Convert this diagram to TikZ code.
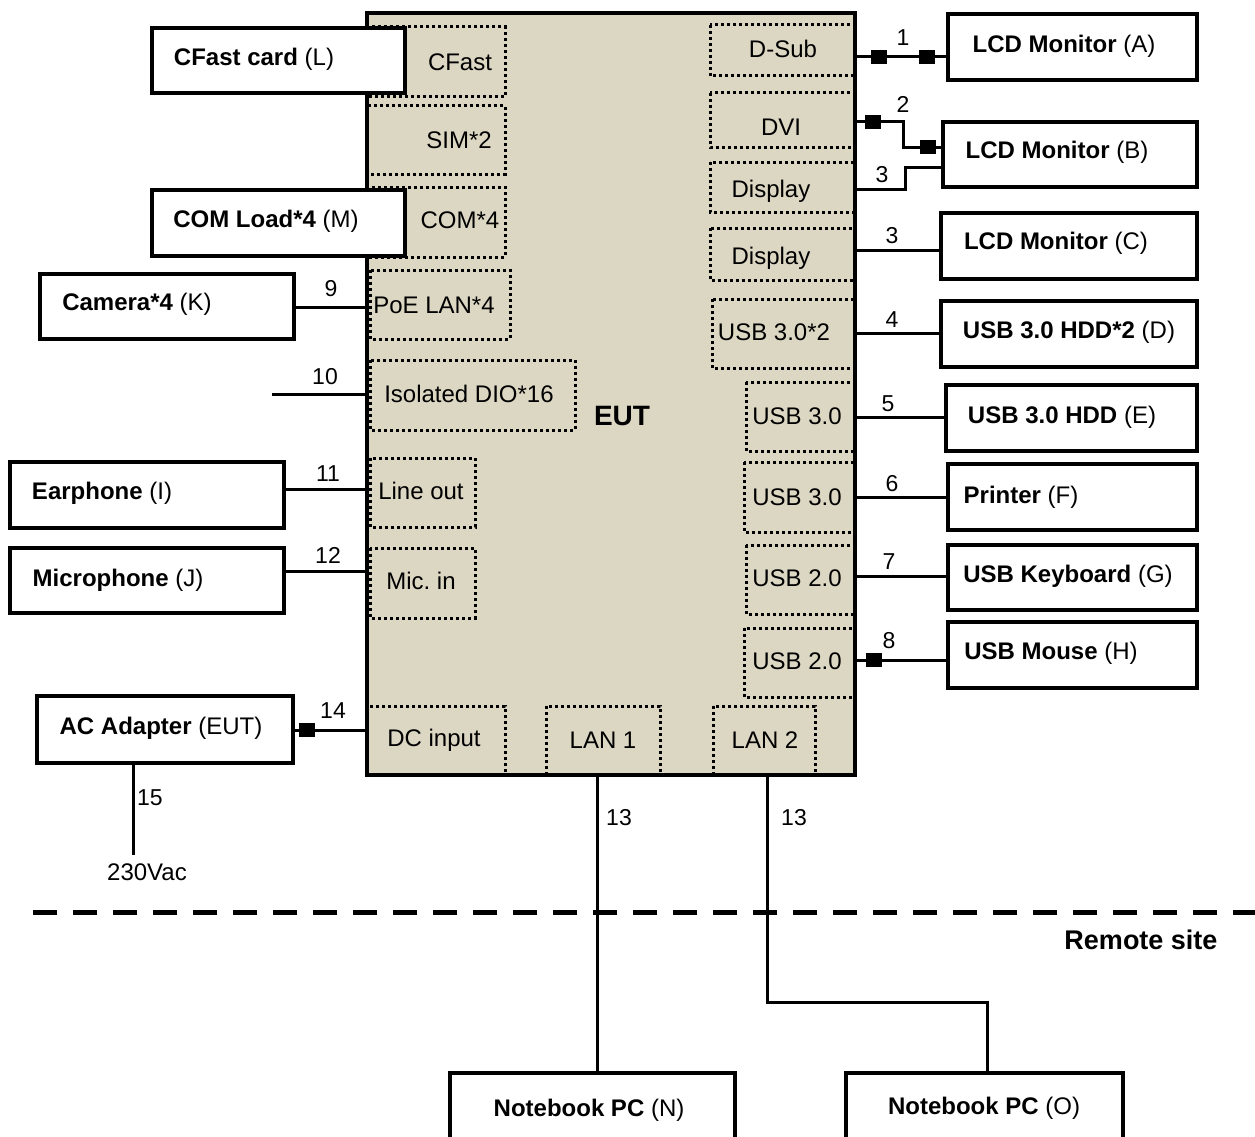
\documentclass[tikz,border=0pt]{standalone}
\usepackage{fontspec}
\setmainfont{Liberation Sans}
\definecolor{euts}{RGB}{220,215,194}
\begin{document}
\begin{tikzpicture}[x=1pt,y=-1pt,
  every node/.style={font=\fontsize{24}{28}\selectfont, inner sep=0pt},
  box/.style={draw, line width=3.5pt, fill=white, inner sep=0pt},
  port/.style={draw, line width=3pt, dash pattern=on 3pt off 3pt},
  wire/.style={line width=3pt},
  sq/.style={fill=black, minimum width=16pt, minimum height=14pt, inner sep=0pt},
  num/.style={font=\fontsize{23}{27}\selectfont}]
\useasboundingbox (0,0) rectangle (1255,1137);
% EUT body
\node[fill=euts, minimum width=488pt, minimum height=762pt] (eutfill) at (611,394) {};
% ports
\draw[port] (367,27) rectangle (505,97);
\draw[port] (367,106) rectangle (505,174);
\draw[port] (367,187) rectangle (505,257);
\draw[port] (370,270) rectangle (510,339);
\draw[port] (370,360) rectangle (575,430);
\draw[port] (370,458) rectangle (475,527);
\draw[port] (370,548) rectangle (475,618);
\draw[port] (367,706) rectangle (505,775);
\draw[port] (546,706) rectangle (660,775);
\draw[port] (713,706) rectangle (815,775);
\draw[port] (710,25) rectangle (855,76);
\draw[port] (710,93) rectangle (855,147);
\draw[port] (710,162) rectangle (855,212);
\draw[port] (710,228) rectangle (855,280);
\draw[port] (712,299) rectangle (855,368);
\draw[port] (746,382) rectangle (855,451);
\draw[port] (744,462) rectangle (855,532);
\draw[port] (746,545) rectangle (855,614);
\draw[port] (744,628) rectangle (855,697);
\node[draw, line width=3.5pt, minimum width=488pt, minimum height=762pt] (eut) at (611,394) {};
% port texts
\node (tcf) at (460,62) {CFast};
\node (tsim) at (459,140) {SIM*2};
\node (tcom) at (460,220) {COM*4};
\node (tpoe) at (434,305) {PoE LAN*4};
\node (tdio) at (469,394) {Isolated DIO*16};
\node (tlo) at (421,491) {Line out};
\node (tmic) at (421,581) {Mic.\ in};
\node (tdc) at (434,740) {DC input};
\node (tl1) at (603,740) {LAN 1};
\node (tl2) at (765,740) {LAN 2};
\node (tds) at (783,49) {D-Sub};
\node (tdvi) at (781,127) {DVI};
\node (tdp1) at (771,191) {Display};
\node (tdp2) at (771,258) {Display};
\node (tu1) at (774,332) {USB 3.0*2};
\node (tu2) at (797,416) {USB 3.0};
\node (tu3) at (797,497) {USB 3.0};
\node (tu4) at (797,578) {USB 2.0};
\node (tu5) at (797,661) {USB 2.0};
\node[font=\fontsize{28}{32}\selectfont\bfseries] (teut) at (622,416) {EUT};
% external boxes
\node[box, minimum width=249pt, minimum height=66pt] (lcdA) at (1072.5,47) {};
\node[box, minimum width=254pt, minimum height=65pt] (lcdB) at (1070,154.5) {};
\node[box, minimum width=256pt, minimum height=66pt] (lcdC) at (1069,246) {};
\node[box, minimum width=256pt, minimum height=66pt] (hddD) at (1069,334) {};
\node[box, minimum width=251pt, minimum height=66pt] (hddE) at (1071.5,418) {};
\node[box, minimum width=249pt, minimum height=66pt] (prnF) at (1072.5,497) {};
\node[box, minimum width=249pt, minimum height=65pt] (kbdG) at (1072.5,577.5) {};
\node[box, minimum width=249pt, minimum height=66pt] (mouH) at (1072.5,655) {};
\node[box, minimum width=253pt, minimum height=65pt] (cfL) at (278.5,60.5) {};
\node[box, minimum width=253pt, minimum height=66pt] (comM) at (278.5,223) {};
\node[box, minimum width=254pt, minimum height=65pt] (camK) at (167,306.5) {};
\node[box, minimum width=274pt, minimum height=66pt] (earI) at (147,495) {};
\node[box, minimum width=274pt, minimum height=65pt] (micJ) at (147,580.5) {};
\node[box, minimum width=256pt, minimum height=67pt] (acA) at (165,729.5) {};
\node[box, minimum width=285pt, minimum height=90pt] (nbN) at (592.5,1118) {};
\node[box, minimum width=277pt, minimum height=90pt] (nbO) at (984.5,1118) {};
% box texts
\node (xA) at (1064,46) {\textbf{LCD Monitor} (A)};
\node (xB) at (1057,152) {\textbf{LCD Monitor} (B)};
\node (xC) at (1056,243) {\textbf{LCD Monitor} (C)};
\node (xD) at (1069,332) {\textbf{USB 3.0 HDD*2} (D)};
\node (xE) at (1062,417) {\textbf{USB 3.0 HDD} (E)};
\node (xF) at (1021,497) {\textbf{Printer} (F)};
\node (xG) at (1068,576) {\textbf{USB Keyboard} (G)};
\node (xH) at (1051,653) {\textbf{USB Mouse} (H)};
\node (xL) at (254,59) {\textbf{CFast card} (L)};
\node (xM) at (266,221) {\textbf{COM Load*4} (M)};
\node (xK) at (137,304) {\textbf{Camera*4} (K)};
\node (xI) at (102,493) {\textbf{Earphone} (I)};
\node (xJ) at (118,580) {\textbf{Microphone} (J)};
\node (xAC) at (161,728) {\textbf{AC Adapter} (EUT)};
\node (xN) at (589,1110) {\textbf{Notebook PC} (N)};
\node (xO) at (984,1108) {\textbf{Notebook PC} (O)};
% wire levels
\coordinate (y1) at (0,57);
\coordinate (y2) at (0,122);
\coordinate (y2b) at (0,147);
\coordinate (y3) at (0,189);
\coordinate (y3b) at (0,167);
\coordinate (y3c) at (0,250);
\coordinate (y4) at (0,333);
\coordinate (y5) at (0,417);
\coordinate (y6) at (0,497);
\coordinate (y7) at (0,576);
\coordinate (y8) at (0,660);
\coordinate (y9) at (0,307);
\coordinate (y10) at (0,394);
\coordinate (y11) at (0,489);
\coordinate (y12) at (0,571);
\coordinate (y14) at (0,730);
\coordinate (end10) at (272,394);
\coordinate (end15) at (133,855);
\coordinate (xl1) at (597,0);
\coordinate (xl2) at (767,0);
\coordinate (turn13) at (767,1002);
\coordinate (xo) at (987,0);
\coordinate (dashA) at (33,912);
\coordinate (dashB) at (1255,912);
% wires
\draw[wire] (eut.east |- y1) -- (lcdA.west |- y1);
\draw[wire] (eut.east |- y2) -- (903,122) -- (903,147) -- (lcdB.west |- y2b);
\draw[wire] (eut.east |- y3) -- (905,189) -- (905,167) -- (lcdB.west |- y3b);
\draw[wire] (eut.east |- y3c) -- (lcdC.west |- y3c);
\draw[wire] (eut.east |- y4) -- (hddD.west |- y4);
\draw[wire] (eut.east |- y5) -- (hddE.west |- y5);
\draw[wire] (eut.east |- y6) -- (prnF.west |- y6);
\draw[wire] (eut.east |- y7) -- (kbdG.west |- y7);
\draw[wire] (eut.east |- y8) -- (mouH.west |- y8);
\draw[wire] (camK.east |- y9) -- (eut.west |- y9);
\draw[wire] (end10) -- (eut.west |- y10);
\draw[wire] (earI.east |- y11) -- (eut.west |- y11);
\draw[wire] (micJ.east |- y12) -- (eut.west |- y12);
\draw[wire] (acA.east |- y14) -- (eut.west |- y14);
\draw[wire] (acA.south -| end15) -- (end15);
\draw[wire] (eut.south -| xl1) -- (nbN.north -| xl1);
\draw[wire] (eut.south -| xl2) -- (turn13) -| (nbO.north -| xo);
\draw[line width=5pt, dash pattern=on 24pt off 16pt] (dashA) -- (dashB);
% connector plugs
\node[sq] (s1a) at (879,57) {};
\node[sq] (s1b) at (927,57) {};
\node[sq] (s2a) at (873,122) {};
\node[sq] (s2b) at (928,147) {};
\node[sq] (s8) at (874,660) {};
\node[sq] (s14) at (307,730) {};
% numbers
\node[num] (n1) at (903,38) {1};
\node[num] (n2) at (903,104) {2};
\node[num] (n3a) at (882,175) {3};
\node[num] (n3b) at (892,236) {3};
\node[num] (n4) at (892,320) {4};
\node[num] (n5) at (888,404) {5};
\node[num] (n6) at (892,484) {6};
\node[num] (n7) at (889,562) {7};
\node[num] (n8) at (889,641) {8};
\node[num] (n9) at (331,289) {9};
\node[num] (n10) at (325,377) {10};
\node[num] (n11) at (328,474) {11};
\node[num] (n12) at (328,555) {12};
\node[num] (n14) at (333,711) {14};
\node[num] (n15) at (150,798) {15};
\node[num] (n13a) at (619,818) {13};
\node[num] (n13b) at (794,818) {13};
\node (vac) at (147,872) {230Vac};
\node[font=\fontsize{27}{31}\selectfont\bfseries] (remote) at (1141,940) {Remote site};
\end{tikzpicture}
\end{document}
